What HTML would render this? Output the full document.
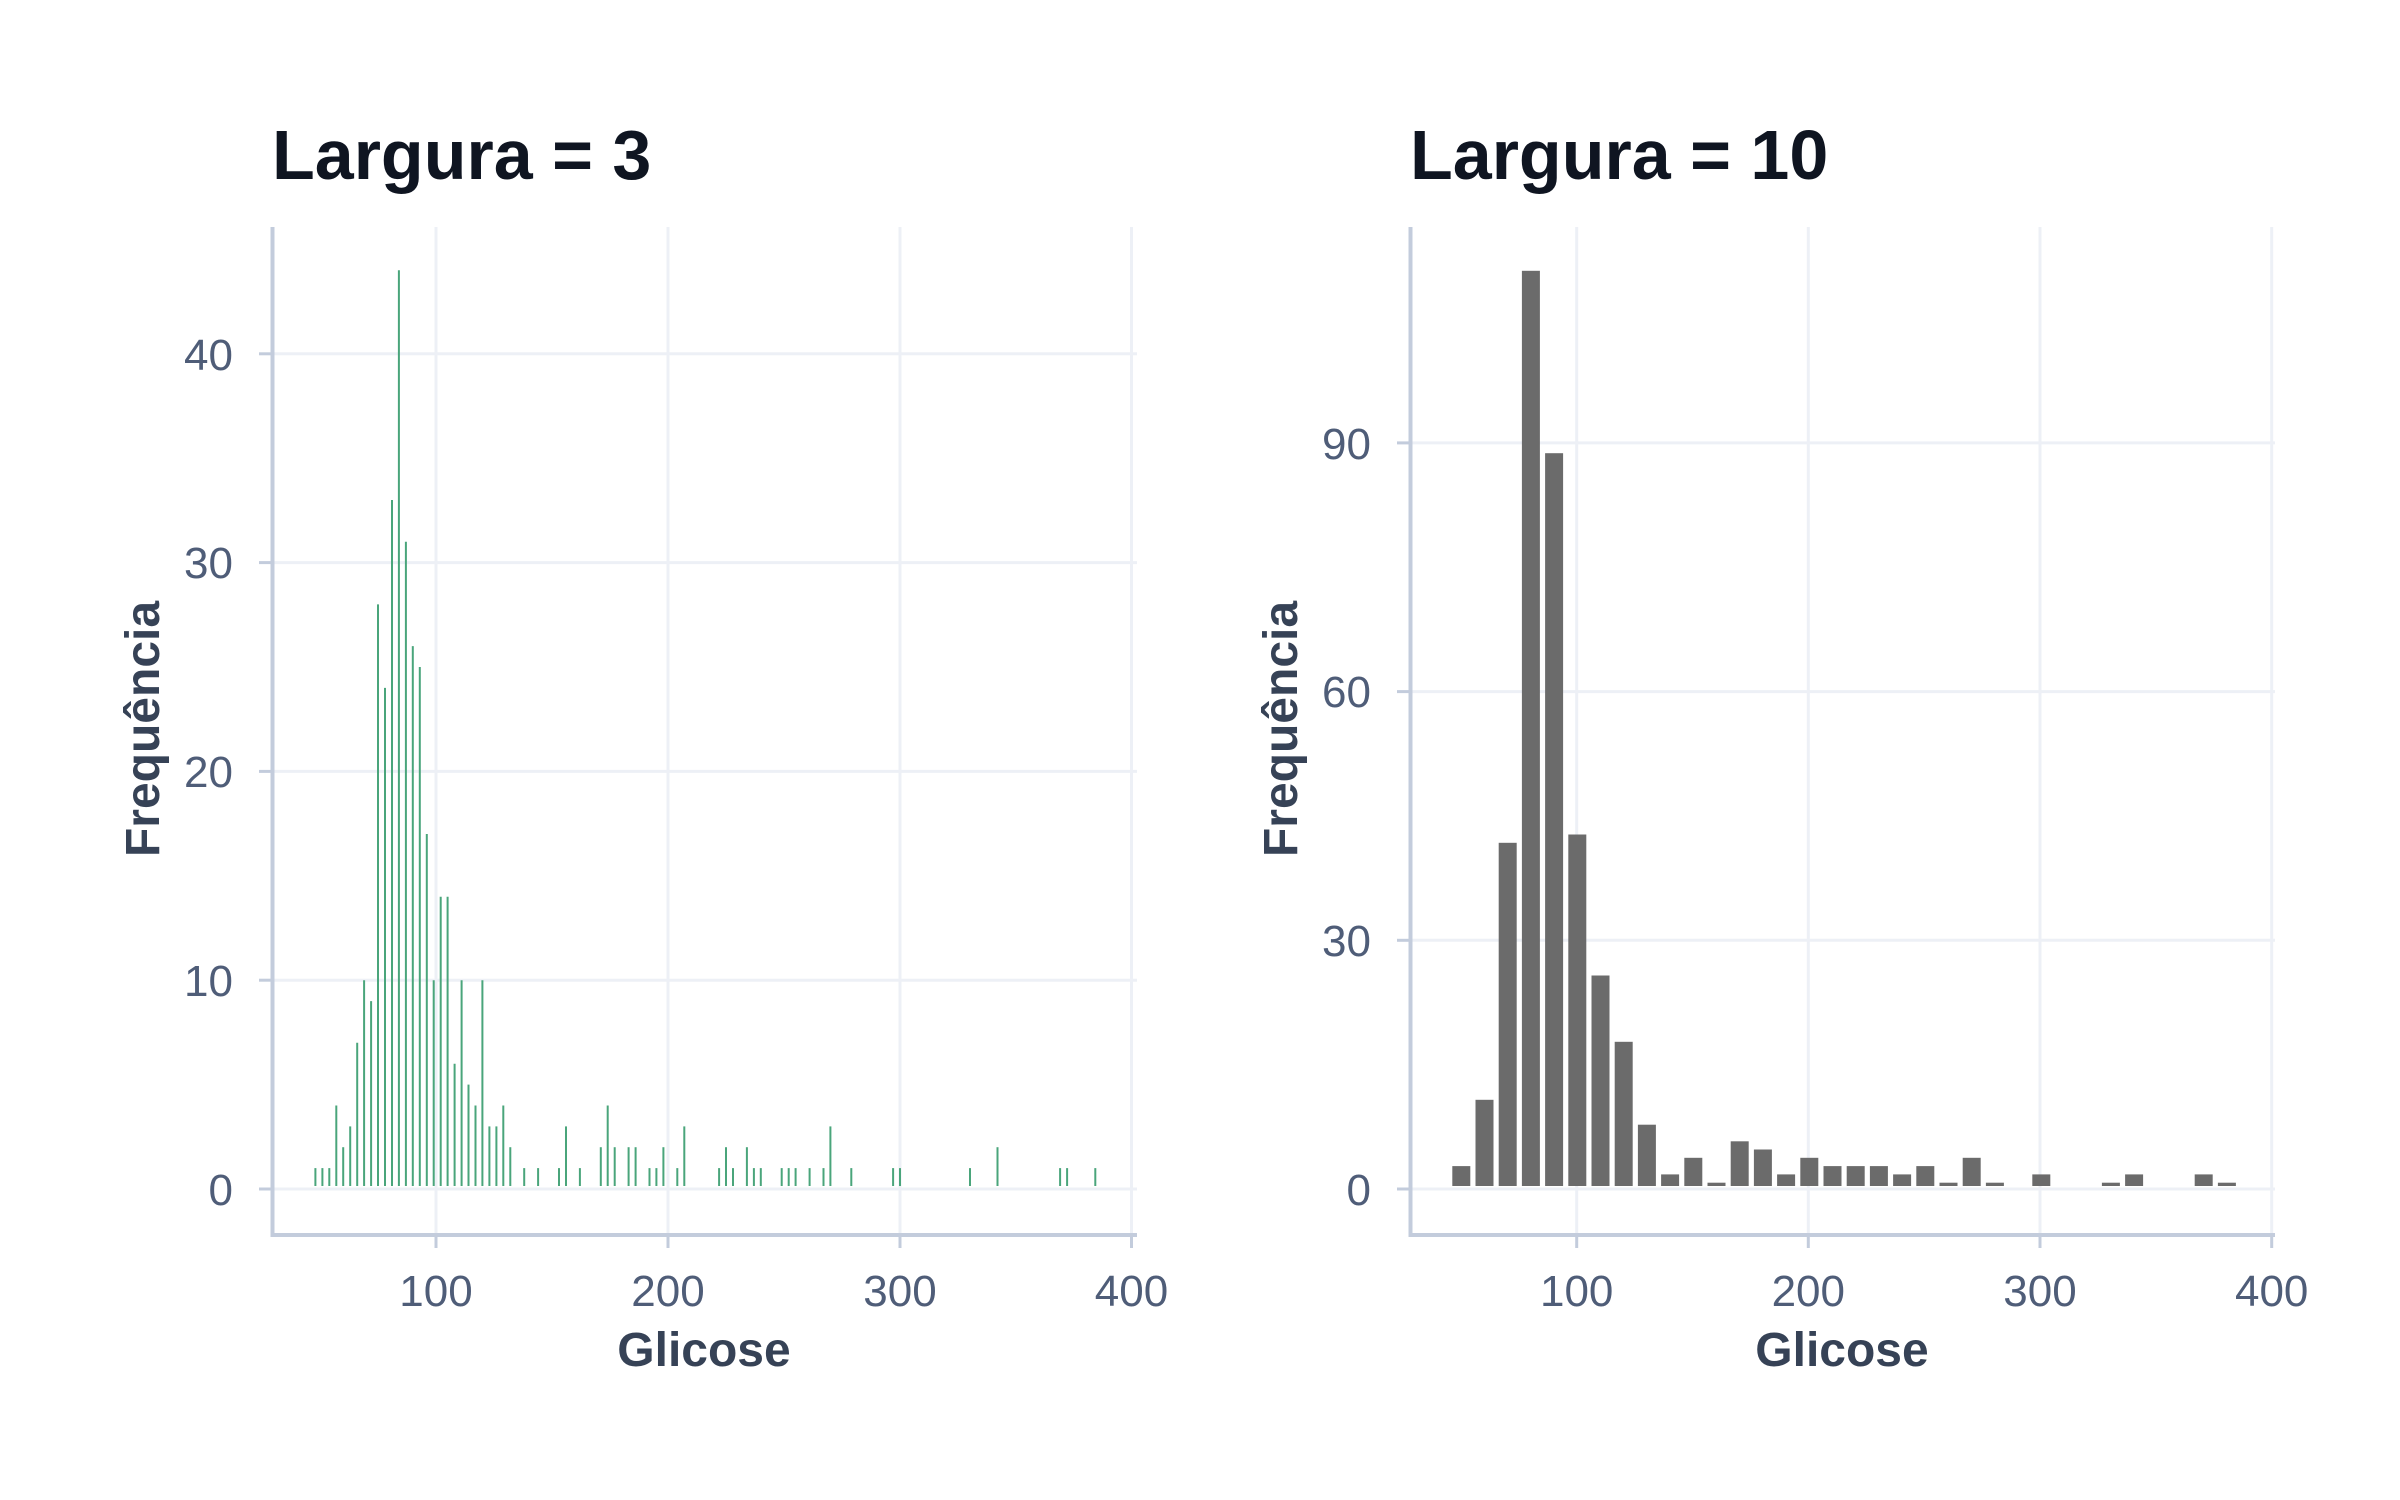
<!DOCTYPE html>
<html><head><meta charset="utf-8"><style>
html,body{margin:0;padding:0;background:#fff;}
svg{display:block;}
text{font-family:"Liberation Sans",Arial,sans-serif;}
.t{font-size:70px;font-weight:bold;fill:#0f1521;}
.tk{font-size:44px;fill:#4f5d78;}
.at{font-size:48px;font-weight:bold;fill:#364256;}
.g{stroke:#edf0f6;stroke-width:3;}
.ax{stroke:#c3ccdc;stroke-width:4;fill:none;}
.tm{stroke:#c3ccdc;stroke-width:3;}
.gl line{stroke:#4aa57b;stroke-width:2;}
.gr rect{fill:#6b6b6b;}
</style></head><body>
<svg width="2400" height="1500" viewBox="0 0 2400 1500" xmlns="http://www.w3.org/2000/svg">
<rect width="2400" height="1500" fill="#fff"/>
<!-- LEFT PANEL -->
<text class="t" x="272" y="179">Largura = 3</text>
<g>
<line class="g" x1="272" y1="1189" x2="1137" y2="1189"/>
<line class="g" x1="272" y1="980.2" x2="1137" y2="980.2"/>
<line class="g" x1="272" y1="771.4" x2="1137" y2="771.4"/>
<line class="g" x1="272" y1="562.6" x2="1137" y2="562.6"/>
<line class="g" x1="272" y1="353.8" x2="1137" y2="353.8"/>
<line class="g" x1="436" y1="227" x2="436" y2="1235"/>
<line class="g" x1="668" y1="227" x2="668" y2="1235"/>
<line class="g" x1="900" y1="227" x2="900" y2="1235"/>
<line class="g" x1="1131.5" y1="227" x2="1131.5" y2="1235"/>
</g>
<g class="gl">
<line x1="315.4" y1="1186" x2="315.4" y2="1168.1"/>
<line x1="322.4" y1="1186" x2="322.4" y2="1168.1"/>
<line x1="329.3" y1="1186" x2="329.3" y2="1168.1"/>
<line x1="336.3" y1="1186" x2="336.3" y2="1105.5"/>
<line x1="343.2" y1="1186" x2="343.2" y2="1147.2"/>
<line x1="350.2" y1="1186" x2="350.2" y2="1126.4"/>
<line x1="357.2" y1="1186" x2="357.2" y2="1042.8"/>
<line x1="364.1" y1="1186" x2="364.1" y2="980.2"/>
<line x1="371.1" y1="1186" x2="371.1" y2="1001.1"/>
<line x1="378.0" y1="1186" x2="378.0" y2="604.4"/>
<line x1="385.0" y1="1186" x2="385.0" y2="687.9"/>
<line x1="392.0" y1="1186" x2="392.0" y2="500.0"/>
<line x1="398.9" y1="1186" x2="398.9" y2="270.3"/>
<line x1="405.9" y1="1186" x2="405.9" y2="541.7"/>
<line x1="412.8" y1="1186" x2="412.8" y2="646.1"/>
<line x1="419.8" y1="1186" x2="419.8" y2="667.0"/>
<line x1="426.8" y1="1186" x2="426.8" y2="834.0"/>
<line x1="433.7" y1="1186" x2="433.7" y2="980.2"/>
<line x1="440.7" y1="1186" x2="440.7" y2="896.7"/>
<line x1="447.6" y1="1186" x2="447.6" y2="896.7"/>
<line x1="454.6" y1="1186" x2="454.6" y2="1063.7"/>
<line x1="461.6" y1="1186" x2="461.6" y2="980.2"/>
<line x1="468.5" y1="1186" x2="468.5" y2="1084.6"/>
<line x1="475.5" y1="1186" x2="475.5" y2="1105.5"/>
<line x1="482.4" y1="1186" x2="482.4" y2="980.2"/>
<line x1="489.4" y1="1186" x2="489.4" y2="1126.4"/>
<line x1="496.4" y1="1186" x2="496.4" y2="1126.4"/>
<line x1="503.3" y1="1186" x2="503.3" y2="1105.5"/>
<line x1="510.3" y1="1186" x2="510.3" y2="1147.2"/>
<line x1="524.2" y1="1186" x2="524.2" y2="1168.1"/>
<line x1="538.1" y1="1186" x2="538.1" y2="1168.1"/>
<line x1="559.0" y1="1186" x2="559.0" y2="1168.1"/>
<line x1="566.0" y1="1186" x2="566.0" y2="1126.4"/>
<line x1="579.9" y1="1186" x2="579.9" y2="1168.1"/>
<line x1="600.8" y1="1186" x2="600.8" y2="1147.2"/>
<line x1="607.7" y1="1186" x2="607.7" y2="1105.5"/>
<line x1="614.7" y1="1186" x2="614.7" y2="1147.2"/>
<line x1="628.6" y1="1186" x2="628.6" y2="1147.2"/>
<line x1="635.6" y1="1186" x2="635.6" y2="1147.2"/>
<line x1="649.5" y1="1186" x2="649.5" y2="1168.1"/>
<line x1="656.4" y1="1186" x2="656.4" y2="1168.1"/>
<line x1="663.4" y1="1186" x2="663.4" y2="1147.2"/>
<line x1="677.3" y1="1186" x2="677.3" y2="1168.1"/>
<line x1="684.3" y1="1186" x2="684.3" y2="1126.4"/>
<line x1="719.1" y1="1186" x2="719.1" y2="1168.1"/>
<line x1="726.0" y1="1186" x2="726.0" y2="1147.2"/>
<line x1="733.0" y1="1186" x2="733.0" y2="1168.1"/>
<line x1="746.9" y1="1186" x2="746.9" y2="1147.2"/>
<line x1="753.9" y1="1186" x2="753.9" y2="1168.1"/>
<line x1="760.8" y1="1186" x2="760.8" y2="1168.1"/>
<line x1="781.7" y1="1186" x2="781.7" y2="1168.1"/>
<line x1="788.7" y1="1186" x2="788.7" y2="1168.1"/>
<line x1="795.6" y1="1186" x2="795.6" y2="1168.1"/>
<line x1="809.6" y1="1186" x2="809.6" y2="1168.1"/>
<line x1="823.5" y1="1186" x2="823.5" y2="1168.1"/>
<line x1="830.4" y1="1186" x2="830.4" y2="1126.4"/>
<line x1="851.3" y1="1186" x2="851.3" y2="1168.1"/>
<line x1="893.1" y1="1186" x2="893.1" y2="1168.1"/>
<line x1="900.0" y1="1186" x2="900.0" y2="1168.1"/>
<line x1="970.0" y1="1186" x2="970.0" y2="1168.1"/>
<line x1="997.5" y1="1186" x2="997.5" y2="1147.2"/>
<line x1="1060.1" y1="1186" x2="1060.1" y2="1168.1"/>
<line x1="1067.1" y1="1186" x2="1067.1" y2="1168.1"/>
<line x1="1095.3" y1="1186" x2="1095.3" y2="1168.1"/>
</g>
<polyline class="ax" points="272.5,227 272.5,1235 1137,1235"/>
<line class="tm" x1="259" y1="1189" x2="272" y2="1189"/>
<line class="tm" x1="259" y1="980.2" x2="272" y2="980.2"/>
<line class="tm" x1="259" y1="771.4" x2="272" y2="771.4"/>
<line class="tm" x1="259" y1="562.6" x2="272" y2="562.6"/>
<line class="tm" x1="259" y1="353.8" x2="272" y2="353.8"/>
<line class="tm" x1="436" y1="1235" x2="436" y2="1248"/>
<line class="tm" x1="668" y1="1235" x2="668" y2="1248"/>
<line class="tm" x1="900" y1="1235" x2="900" y2="1248"/>
<line class="tm" x1="1131.5" y1="1235" x2="1131.5" y2="1248"/>
<g class="tk" text-anchor="end">
<text x="233" y="1205">0</text>
<text x="233" y="996">10</text>
<text x="233" y="787">20</text>
<text x="233" y="578">30</text>
<text x="233" y="370">40</text>
</g>
<g class="tk" text-anchor="middle">
<text x="436" y="1306">100</text>
<text x="668" y="1306">200</text>
<text x="900" y="1306">300</text>
<text x="1131.5" y="1306">400</text>
</g>
<text class="at" x="704" y="1366" text-anchor="middle">Glicose</text>
<text class="at" transform="translate(159,729) rotate(-90)" text-anchor="middle">Frequência</text>

<!-- RIGHT PANEL -->
<text class="t" x="1410" y="179">Largura = 10</text>
<g>
<line class="g" x1="1410" y1="1189" x2="2275" y2="1189"/>
<line class="g" x1="1410" y1="940.3" x2="2275" y2="940.3"/>
<line class="g" x1="1410" y1="691.6" x2="2275" y2="691.6"/>
<line class="g" x1="1410" y1="442.9" x2="2275" y2="442.9"/>
<line class="g" x1="1576.7" y1="227" x2="1576.7" y2="1235"/>
<line class="g" x1="1808.3" y1="227" x2="1808.3" y2="1235"/>
<line class="g" x1="2040" y1="227" x2="2040" y2="1235"/>
<line class="g" x1="2271.7" y1="227" x2="2271.7" y2="1235"/>
</g>
<g class="gr">
<rect x="1452.3" y="1166.1" width="18" height="19.9"/>
<rect x="1475.5" y="1099.8" width="18" height="86.2"/>
<rect x="1498.7" y="842.8" width="18" height="343.2"/>
<rect x="1521.9" y="270.8" width="18" height="915.2"/>
<rect x="1545.1" y="453.2" width="18" height="732.8"/>
<rect x="1568.3" y="834.5" width="18" height="351.5"/>
<rect x="1591.5" y="975.5" width="18" height="210.5"/>
<rect x="1614.7" y="1041.8" width="18" height="144.2"/>
<rect x="1637.9" y="1124.7" width="18" height="61.3"/>
<rect x="1661.1" y="1174.4" width="18" height="11.6"/>
<rect x="1684.3" y="1157.8" width="18" height="28.2"/>
<rect x="1707.5" y="1182.7" width="18" height="3.3"/>
<rect x="1730.7" y="1141.3" width="18" height="44.7"/>
<rect x="1753.9" y="1149.5" width="18" height="36.5"/>
<rect x="1777.1" y="1174.4" width="18" height="11.6"/>
<rect x="1800.3" y="1157.8" width="18" height="28.2"/>
<rect x="1823.5" y="1166.1" width="18" height="19.9"/>
<rect x="1846.7" y="1166.1" width="18" height="19.9"/>
<rect x="1869.9" y="1166.1" width="18" height="19.9"/>
<rect x="1893.1" y="1174.4" width="18" height="11.6"/>
<rect x="1916.3" y="1166.1" width="18" height="19.9"/>
<rect x="1939.5" y="1182.7" width="18" height="3.3"/>
<rect x="1962.7" y="1157.8" width="18" height="28.2"/>
<rect x="1985.9" y="1182.7" width="18" height="3.3"/>
<rect x="2032.3" y="1174.4" width="18" height="11.6"/>
<rect x="2101.9" y="1182.7" width="18" height="3.3"/>
<rect x="2125.1" y="1174.4" width="18" height="11.6"/>
<rect x="2194.7" y="1174.4" width="18" height="11.6"/>
<rect x="2217.9" y="1182.7" width="18" height="3.3"/>
</g>
<polyline class="ax" points="1410.5,227 1410.5,1235 2275,1235"/>
<line class="tm" x1="1397" y1="1189" x2="1410" y2="1189"/>
<line class="tm" x1="1397" y1="940.3" x2="1410" y2="940.3"/>
<line class="tm" x1="1397" y1="691.6" x2="1410" y2="691.6"/>
<line class="tm" x1="1397" y1="442.9" x2="1410" y2="442.9"/>
<line class="tm" x1="1576.7" y1="1235" x2="1576.7" y2="1248"/>
<line class="tm" x1="1808.3" y1="1235" x2="1808.3" y2="1248"/>
<line class="tm" x1="2040" y1="1235" x2="2040" y2="1248"/>
<line class="tm" x1="2271.7" y1="1235" x2="2271.7" y2="1248"/>
<g class="tk" text-anchor="end">
<text x="1371" y="1205">0</text>
<text x="1371" y="956">30</text>
<text x="1371" y="707">60</text>
<text x="1371" y="459">90</text>
</g>
<g class="tk" text-anchor="middle">
<text x="1576.7" y="1306">100</text>
<text x="1808.3" y="1306">200</text>
<text x="2040" y="1306">300</text>
<text x="2271.7" y="1306">400</text>
</g>
<text class="at" x="1842" y="1366" text-anchor="middle">Glicose</text>
<text class="at" transform="translate(1297,729) rotate(-90)" text-anchor="middle">Frequência</text>
</svg>
</body></html>
